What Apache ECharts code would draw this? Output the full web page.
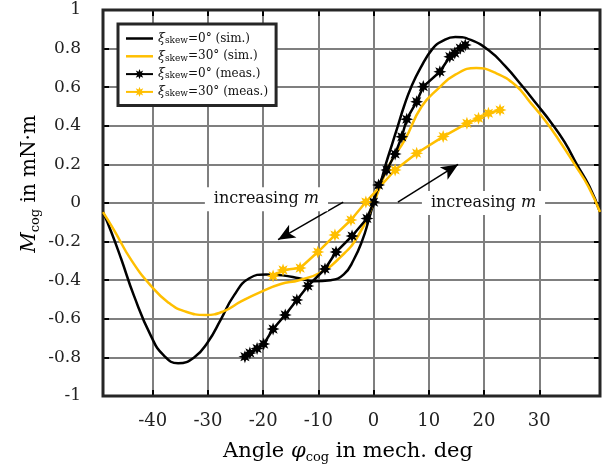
<!DOCTYPE html>
<html>
<head>
<meta charset="utf-8">
<script src="https://cdn.jsdelivr.net/npm/echarts@6/dist/echarts.min.js"></script>
<style>
html,body{margin:0;padding:0;background:#fff;}
#c{width:603px;height:473px;}
</style>
</head>
<body>
<div id="c"></div>
<script>
// ---- data ----
const xTickValues = [-40, -30, -20, -10, 0, 10, 20, 30];
const xMin = -49, xMax = 41;
const yMin = -1, yMax = 1, yStep = 0.2;

const simX0 = [-49, -47.5, -45.7, -43.4, -40.3, -38, -35.4, -32.5, -30, -27.6, -25.3, -22.5, -19.5, -16.5, -13.5, -10.8, -7.8, -5.4, -3.6, -2.0, -0.9, 0, 1.2, 2.2, 3.3, 4.4, 5.5, 6.8, 8.5, 10.7, 12.5, 14.8, 17.6, 20.9, 23.8, 26.8, 29.6, 32.2, 34.6, 36.8, 39.1, 41];
const simY0 = [-0.047, -0.15, -0.29, -0.48, -0.69, -0.79, -0.83, -0.80, -0.72, -0.60, -0.48, -0.39, -0.37, -0.375, -0.39, -0.405, -0.40, -0.37, -0.294, -0.19, -0.09, 0, 0.1, 0.2, 0.3, 0.4, 0.5, 0.6, 0.7, 0.8, 0.84, 0.86, 0.845, 0.79, 0.71, 0.61, 0.51, 0.415, 0.315, 0.20, 0.085, -0.047];

const simX30 = [-49, -47, -43.9, -40.3, -37.2, -34.3, -30.4, -27.1, -24, -20.4, -16.8, -13.5, -9.6, -6, -2.9, 0, 2.7, 5.7, 8.7, 11.8, 14.8, 18.6, 22, 25.7, 28.4, 31, 33.7, 36.4, 38.9, 41];
const simY30 = [-0.047, -0.14, -0.295, -0.43, -0.515, -0.56, -0.58, -0.56, -0.51, -0.46, -0.42, -0.40, -0.36, -0.28, -0.175, 0.0, 0.19, 0.33, 0.50, 0.595, 0.665, 0.70, 0.675, 0.61, 0.52, 0.43, 0.32, 0.20, 0.085, -0.047];

const measX0 = [-23.3, -22.4, -21.1, -19.9, -18.2, -16.0, -13.9, -11.9, -8.8, -6.8, -3.9, -1.2, 0.0, 0.9, 2.4, 3.9, 5.1, 6.0, 7.8, 9.0, 12.0, 13.8, 14.7, 15.7, 16.6];
const measY0 = [-0.796, -0.777, -0.754, -0.731, -0.653, -0.580, -0.503, -0.430, -0.342, -0.254, -0.171, -0.08, 0.005, 0.093, 0.171, 0.254, 0.343, 0.434, 0.525, 0.603, 0.68, 0.758, 0.777, 0.802, 0.819];

const measX30 = [-18.2, -16.4, -13.3, -10.1, -7.0, -4.1, -1.4, 3.9, 7.8, 12.6, 16.9, 19.0, 20.8, 22.9];
const measY30 = [-0.378, -0.347, -0.337, -0.254, -0.166, -0.088, 0.005, 0.171, 0.258, 0.344, 0.413, 0.439, 0.465, 0.482];

const seriesNames = ['sim0', 'sim30', 'meas0', 'meas30'];
const legendLabels = {
  sim0: '{x|ξ}{s|skew}{t|=0° (sim.)}',
  sim30: '{x|ξ}{s|skew}{t|=30° (sim.)}',
  meas0: '{x|ξ}{s|skew}{t|=0° (meas.)}',
  meas30: '{x|ξ}{s|skew}{t|=30° (meas.)}'
};
// annotation anchors (data coordinates)
const annLeftText = [-19.4, 0.02];
const annRightText = [19.9, 0.0];
const annLeftArrow = [[-5.5, 0.005], [-17.3, -0.19]];
const annRightArrow = [[4.4, 0.005], [15.3, 0.2]];

// ---- styling ----
const FONT = 'DejaVu Serif';
const BLACK = '#000000';
const YELLOW = '#FFBF00';

function starPath(n, rIn) {
  let d = '';
  for (let i = 0; i < 2 * n; i++) {
    const a = Math.PI * i / n - Math.PI / 2;
    const r = (i % 2) ? rIn : 1;
    d += (i ? 'L' : 'M') + (50 + 50 * r * Math.cos(a)).toFixed(2) + ' ' + (50 + 50 * r * Math.sin(a)).toFixed(2);
  }
  return 'path://' + d + 'Z';
}
const STAR = starPath(8, 0.5);
const LINE_ICON = 'path://M0 0 H27 V2.5 H0 Z';

const zip = (xs, ys) => xs.map((x, i) => [x, ys[i]]);

const chart = echarts.init(document.getElementById('c'), null, {renderer: 'canvas'});

const tickStyle = {show: true, inside: true, length: 6, lineStyle: {color: '#000', width: 2}};
const noLine = {show: false, onZero: false};

const option = {
  animation: false,
  backgroundColor: '#fff',
  textStyle: {fontFamily: FONT},
  grid: {left: 103, right: 3, top: 10, bottom: 77, show: true, borderColor: '#262626', borderWidth: 3, backgroundColor: 'transparent', z: 3},
  xAxis: [{
    type: 'value', min: xMin, max: xMax, position: 'bottom',
    axisLine: noLine,
    axisTick: Object.assign({customValues: xTickValues}, tickStyle),
    axisLabel: {customValues: xTickValues, fontFamily: FONT, fontSize: 18, color: '#222', margin: 16},
    splitLine: {show: true, lineStyle: {color: '#7f7f7f', width: 2}}
  }, {
    type: 'value', min: xMin, max: xMax, position: 'top',
    axisLine: noLine,
    axisTick: Object.assign({customValues: xTickValues}, tickStyle),
    axisLabel: {show: false},
    splitLine: {show: false}
  }],
  yAxis: [{
    type: 'value', min: yMin, max: yMax, interval: yStep, position: 'left',
    axisLine: noLine,
    axisTick: tickStyle,
    axisLabel: {fontFamily: FONT, fontSize: 17, color: '#222', margin: 22},
    splitLine: {show: true, lineStyle: {color: '#7f7f7f', width: 2}}
  }, {
    type: 'value', min: yMin, max: yMax, interval: yStep, position: 'right',
    axisLine: noLine,
    axisTick: tickStyle,
    axisLabel: {show: false},
    splitLine: {show: false}
  }],
  legend: {
    data: [
      {name: 'sim0', icon: LINE_ICON},
      {name: 'sim30', icon: LINE_ICON},
      {name: 'meas0'},
      {name: 'meas30'}
    ],
    orient: 'vertical',
    left: 118, top: 24,
    padding: [8, 8, 7, 7],
    itemGap: 4.8,
    itemWidth: 27, itemHeight: 13,
    backgroundColor: '#fff',
    borderColor: '#262626', borderWidth: 3,
    selectedMode: false,
    formatter: (name) => legendLabels[name],
    textStyle: {
      fontFamily: FONT, fontSize: 12, color: '#111',
      rich: {
        x: {fontFamily: FONT, fontSize: 12.5, fontStyle: 'italic', color: '#111', lineHeight: 13},
        s: {fontFamily: FONT, fontSize: 9, color: '#111', verticalAlign: 'bottom', lineHeight: 9},
        t: {fontFamily: FONT, fontSize: 12, color: '#111', lineHeight: 13}
      }
    }
  },
  series: [{
    name: 'sim0', type: 'line', data: zip(simX0, simY0), smooth: 0.5, symbol: 'none',
    lineStyle: {color: BLACK, width: 2.5}, itemStyle: {color: BLACK}, z: 4
  }, {
    name: 'sim30', type: 'line', data: zip(simX30, simY30), smooth: 0.5, symbol: 'none',
    lineStyle: {color: YELLOW, width: 2.5}, itemStyle: {color: YELLOW}, z: 4
  }, {
    name: 'meas0', type: 'line', data: zip(measX0, measY0), symbol: STAR, symbolSize: 13, showSymbol: true,
    lineStyle: {color: BLACK, width: 2.5}, itemStyle: {color: BLACK}, z: 5
  }, {
    name: 'meas30', type: 'line', data: zip(measX30, measY30), symbol: STAR, symbolSize: 13, showSymbol: true,
    lineStyle: {color: YELLOW, width: 2.5}, itemStyle: {color: YELLOW}, z: 5
  }, {
    name: 'annotations', type: 'line', data: [], z: 6,
    markLine: {
      silent: true, animation: false,
      label: {show: false},
      lineStyle: {color: '#000', width: 1.5, type: 'solid'},
      data: [
        [{coord: annLeftArrow[0], symbol: 'none', lineStyle: {curveness: 0.2}},
         {coord: annLeftArrow[1], symbol: 'arrow', symbolSize: [11, 17]}],
        [{coord: annRightArrow[0], symbol: 'none', lineStyle: {curveness: 0}},
         {coord: annRightArrow[1], symbol: 'arrow', symbolSize: [11, 17]}]
      ]
    },
    markPoint: {
      silent: true, animation: false,
      symbol: 'rect', symbolSize: 0,
      label: {
        show: true, position: 'inside',
        formatter: '{n|increasing }{i|m}',
        backgroundColor: '#fff', padding: [4, 9, 4, 9],
        rich: {
          n: {fontFamily: FONT, fontSize: 16, color: '#111'},
          i: {fontFamily: FONT, fontSize: 16, fontStyle: 'italic', color: '#111'}
        }
      },
      data: [{coord: annLeftText}, {coord: annRightText}]
    }
  }],
  graphic: [{
    type: 'text', x: 348, y: 452,
    style: {
      text: '{a|Angle }{i|φ}{s|cog}{a| in mech. deg}',
      align: 'center', verticalAlign: 'middle',
      rich: {
        a: {fontFamily: FONT, fontSize: 21, color: '#222', lineHeight: 24},
        i: {fontFamily: FONT, fontSize: 21, fontStyle: 'italic', color: '#222', lineHeight: 24},
        s: {fontFamily: FONT, fontSize: 13, color: '#222', verticalAlign: 'bottom', lineHeight: 13}
      }
    }
  }, {
    type: 'text', x: 30, y: 184, rotation: Math.PI / 2,
    style: {
      text: '{i|M}{s|cog}{a| in mN·m}',
      align: 'center', verticalAlign: 'middle',
      rich: {
        a: {fontFamily: FONT, fontSize: 20, color: '#222', lineHeight: 24},
        i: {fontFamily: FONT, fontSize: 20, fontStyle: 'italic', color: '#222', lineHeight: 24},
        s: {fontFamily: FONT, fontSize: 13, color: '#222', verticalAlign: 'bottom', lineHeight: 13}
      }
    }
  }]
};
chart.setOption(option);
</script>
</body>
</html>
